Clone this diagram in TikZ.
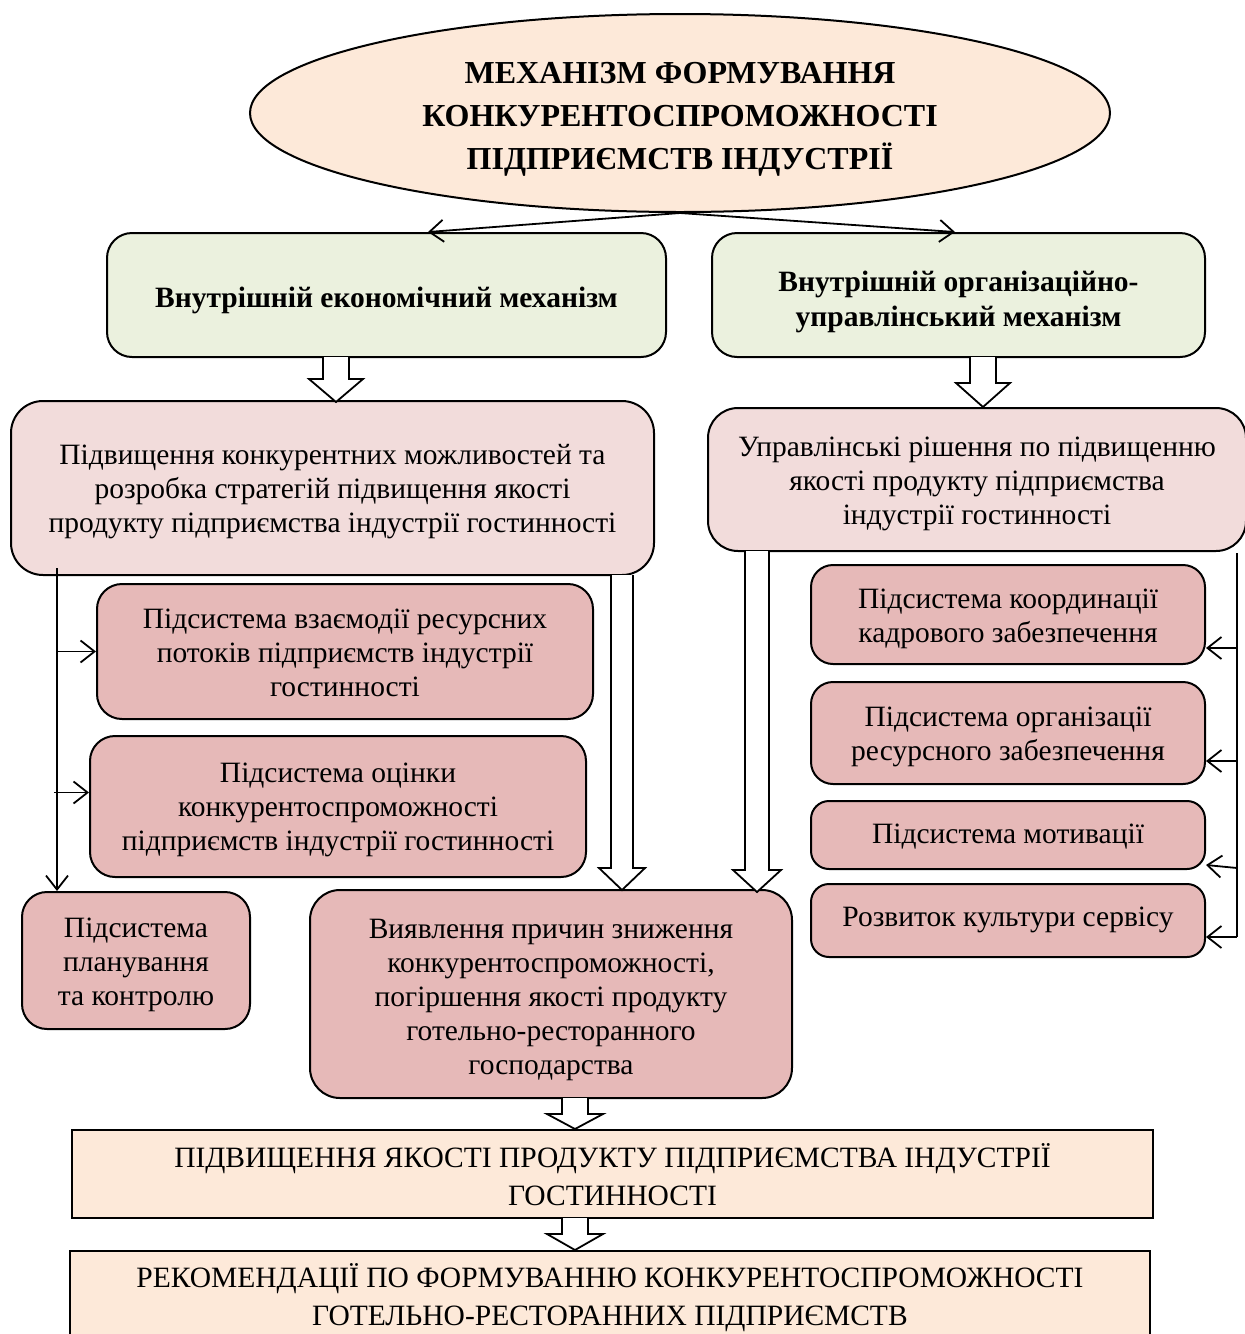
\documentclass[tikz,border=0pt]{standalone}
\usepackage{fontspec}
\setmainfont{Liberation Serif}
\usetikzlibrary{arrows.meta,shapes.geometric,calc}
\definecolor{peach}{HTML}{FDE9D9}
\definecolor{olivebg}{HTML}{EBF1DE}
\definecolor{lpink}{HTML}{F2DCDB}
\definecolor{dpink}{HTML}{E6B9B8}
\newcommand\bodyf{\fontsize{29.5}{34}\selectfont}
\newcommand\titlef{\fontsize{32}{43}\selectfont\bfseries}
\newcommand\greenf{\fontsize{29.5}{35}\selectfont\bfseries}
\newcommand\capf{\fontsize{29.5}{38}\selectfont}
% block arrow: x, ytop, ytip, shaft half width, head half width, head length
\newcommand\blockarr[6]{%
  \draw[blk] ({#1-#4},#2) -- ({#1-#4},{#3-#6}) -- ({#1-#5},{#3-#6}) -- (#1,#3)
    -- ({#1+#5},{#3-#6}) -- ({#1+#4},{#3-#6}) -- ({#1+#4},#2);}
\begin{document}
\begin{tikzpicture}[x=1pt,y=-1pt,
  rbox/.style={draw, line width=2pt, inner sep=0pt},
  txt/.style={align=center, inner sep=0pt, font=\bodyf},
  arr/.style={line width=1.8pt, -{Straight Barb[length=14pt,width=22pt,line width=1.8pt]}},
  plain/.style={line width=1.8pt},
  blk/.style={draw, fill=white, line width=1.8pt, line join=miter}]
\useasboundingbox (0,0) rectangle (1245,1334);
\fill[white] (0,0) rectangle (1245,1334);

\node[ellipse, draw, line width=2pt, fill=peach, inner sep=0pt, minimum width=860pt,
  minimum height=198pt] (ell) at (680,113) {};
\path (ell.center) ++(0,6) node[txt, font=\titlef]
  {МЕХАНІЗМ ФОРМУВАННЯ\\КОНКУРЕНТОСПРОМОЖНОСТІ\\ПІДПРИЄМСТВ ІНДУСТРІЇ};

\node[rbox, fill=olivebg, rounded corners=25pt, minimum width=559pt, minimum height=124pt]
  (gl) at (386.5,295) {};
\path (gl.center) ++(0,5) node[txt, font=\greenf] {Внутрішній економічний механізм};
\node[rbox, fill=olivebg, rounded corners=25pt, minimum width=493pt, minimum height=124pt]
  (gr) at (958.5,295) {};
\path (gr.center) ++(0,7) node[txt, font=\greenf] {Внутрішній організаційно-\\управлінський механізм};

\node[rbox, fill=lpink, rounded corners=32pt, minimum width=643pt, minimum height=174pt]
  (lp) at (332.5,488) {};
\path (lp.center) ++(0,4) node[txt] {Підвищення конкурентних можливостей та\\розробка стратегій підвищення якості\\продукту підприємства індустрії гостинності};
\node[rbox, fill=lpink, rounded corners=30pt, minimum width=538pt, minimum height=143pt]
  (rp) at (977,479.5) {};
\path (rp.center) ++(0,4) node[txt] {Управлінські рішення по підвищенню\\якості продукту підприємства\\індустрії гостинності};

\node[rbox, fill=dpink, rounded corners=25pt, minimum width=496pt, minimum height=135pt]
  (A) at (345,651.5) {};
\path (A.center) ++(0,1) node[txt] {Підсистема взаємодії ресурсних\\потоків підприємств індустрії\\гостинності};
\node[rbox, fill=dpink, rounded corners=25pt, minimum width=496pt, minimum height=141pt]
  (B) at (338,806.5) {};
\path (B.center) ++(0,3) node[txt] {Підсистема оцінки\\конкурентоспроможності\\підприємств індустрії гостинності};
\node[rbox, fill=dpink, rounded corners=25pt, minimum width=228pt, minimum height=137pt]
  (C) at (136,960.5) {};
\path (C.center) ++(0,4) node[txt] {Підсистема\\планування\\та контролю};
\node[rbox, fill=dpink, rounded corners=30pt, minimum width=482pt, minimum height=208pt]
  (D) at (551,994) {};
\path (D.center) ++(0,6) node[txt] {Виявлення причин зниження\\конкурентоспроможності,\\погіршення якості продукту\\готельно-ресторанного\\господарства};

\node[rbox, fill=dpink, rounded corners=22pt, minimum width=394pt, minimum height=99pt]
  (R1) at (1008,614.5) {};
\path (R1.center) ++(0,4) node[txt] {Підсистема координації\\кадрового забезпечення};
\node[rbox, fill=dpink, rounded corners=22pt, minimum width=394pt, minimum height=102pt]
  (R2) at (1008,733) {};
\path (R2.center) ++(0,4) node[txt] {Підсистема організації\\ресурсного забезпечення};
\node[rbox, fill=dpink, rounded corners=18pt, minimum width=394pt, minimum height=68pt]
  (R3) at (1008,835) {};
\path (R3.center) ++(0,2) node[txt] {Підсистема мотивації};
\node[rbox, fill=dpink, rounded corners=18pt, minimum width=394pt, minimum height=73pt]
  (R4) at (1008,920.5) {};
\path (R4.center) ++(0,-1) node[txt] {Розвиток культури сервісу};

\node[rbox, fill=peach, minimum width=1081pt, minimum height=88pt] (P1) at (612.5,1174) {};
\path (P1.center) ++(0,1) node[txt, font=\capf] {ПІДВИЩЕННЯ ЯКОСТІ ПРОДУКТУ ПІДПРИЄМСТВА ІНДУСТРІЇ\\ГОСТИННОСТІ};
\node[rbox, fill=peach, minimum width=1080pt, minimum height=94pt] (P2) at (610,1298) {};
\path (P2.center) ++(0,0) node[txt, font=\capf] {РЕКОМЕНДАЦІЇ ПО ФОРМУВАННЮ КОНКУРЕНТОСПРОМОЖНОСТІ\\ГОТЕЛЬНО-РЕСТОРАННИХ ПІДПРИЄМСТВ};

% top connectors
\draw[arr] (ell.south) -- (428,0 |- gl.north);
\draw[arr] (ell.south) -- (955,0 |- gr.north);

% block arrows
\blockarr{336}{357}{402}{13}{27}{23}
\blockarr{983}{357}{407}{13}{27}{24}
\blockarr{622}{575}{890}{11}{23}{22}
\blockarr{757}{551}{892}{12}{24}{22}
\blockarr{575}{1098}{1129}{13}{28}{15}
\blockarr{575}{1218}{1250}{13}{28}{16}

% left connectors
\coordinate (ls) at (57,568);
\draw[arr] (ls) -- (57,0 |- C.north);
\draw[arr] (57,0 |- A.west) -- (A.west);
\coordinate (bB) at ($(B.west)+(0,-14)$);
\draw[arr] (54,0 |- bB) -- (bB);

% right connectors
\coordinate (rs) at (1237,553);
\coordinate (re) at (1237,937);
\draw[plain] (rs) -- (re);
\coordinate (p1) at ($(R1.east)+(0,33.5)$);
\coordinate (p2) at ($(R2.east)+(0,28)$);
\coordinate (p3) at ($(R3.east)+(0,30)$);
\coordinate (p4) at ($(R4.east)+(0,16.5)$);
\draw[arr] (1237,0 |- p1) -- (p1);
\draw[arr] (1237,0 |- p2) -- (p2);
\draw[arr] (1237,868) -- (p3);
\draw[arr] (re) -- (p4);
\end{tikzpicture}
\end{document}
